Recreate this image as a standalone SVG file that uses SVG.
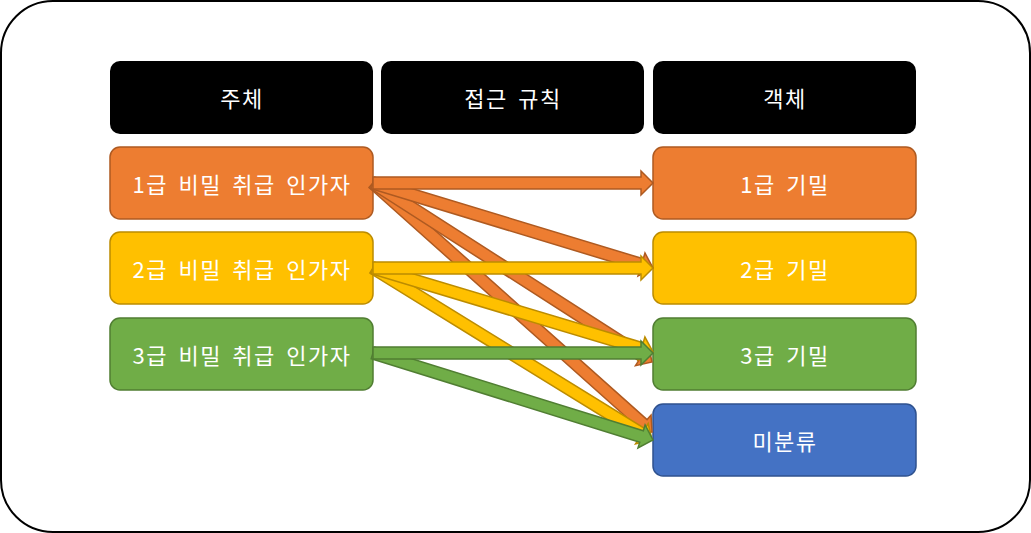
<svg xmlns="http://www.w3.org/2000/svg" width="1031" height="533" viewBox="0 0 1031 533">
<style>
text{font-family:"Noto Sans CJK KR","Noto Sans",sans-serif;font-size:22px;letter-spacing:1.5px;word-spacing:4px;fill:#fff;text-anchor:middle;dominant-baseline:central}
.hdr{fill:#000}
.o{fill:#ED7D31;stroke:#AE5A21;stroke-width:1.5}
.y{fill:#FFC000;stroke:#BC8C00;stroke-width:1.5}
.g{fill:#70AD47;stroke:#507E32;stroke-width:1.5}
.b{fill:#4472C4;stroke:#2F528F;stroke-width:1.5}
</style>
<rect x="1" y="1" width="1029" height="531" rx="52" fill="#fff" stroke="#000" stroke-width="2"/>
<g id="h-subject"><rect class="hdr" x="110" y="61" width="263" height="73" rx="10"/><text x="242" y="97">주체</text></g>
<g id="h-rule"><rect class="hdr" x="381" y="61" width="263" height="73" rx="10"/><text x="513" y="97">접근 규칙</text></g>
<g id="h-object"><rect class="hdr" x="653" y="61" width="263" height="73" rx="10"/><text x="785" y="97">객체</text></g>
<g id="s1"><rect class="o" x="110" y="147" width="263" height="72" rx="10"/><text x="242" y="183">1급 비밀 취급 인가자</text></g>
<g id="s2"><rect class="y" x="110" y="232" width="263" height="72" rx="10"/><text x="242" y="268">2급 비밀 취급 인가자</text></g>
<g id="s3"><rect class="g" x="110" y="318" width="263" height="72" rx="10"/><text x="242" y="354">3급 비밀 취급 인가자</text></g>
<g id="o1"><rect class="o" x="653" y="147" width="263" height="72" rx="10"/><text x="785" y="183">1급 기밀</text></g>
<g id="o2"><rect class="y" x="653" y="232" width="263" height="72" rx="10"/><text x="785" y="268">2급 기밀</text></g>
<g id="o3"><rect class="g" x="653" y="318" width="263" height="72" rx="10"/><text x="785" y="354">3급 기밀</text></g>
<g id="o4"><rect class="b" x="653" y="404" width="263" height="72" rx="10"/><text x="785" y="440">미분류</text></g>
<g id="connectors">
<path class="o" transform="translate(373,183) rotate(41.75)" d="M0,-6 L362,-6 L362,-12 L374,0 L362,12 L362,6 L0,6 Z"/>
<path class="o" transform="translate(373,183) rotate(32.68)" d="M0,-6 L319.5,-6 L319.5,-12 L331.5,0 L319.5,12 L319.5,6 L0,6 Z"/>
<path class="o" transform="translate(373,183) rotate(16.89)" d="M0,-6 L280.6,-6 L280.6,-12 L292.6,0 L280.6,12 L280.6,6 L0,6 Z"/>
<path class="o" transform="translate(373,183)" d="M0,-6 L268,-6 L268,-12 L280,0 L268,12 L268,6 L0,6 Z"/>
<path class="y" transform="translate(373,268) rotate(31.65)" d="M0,-6 L315.8,-6 L315.8,-12 L327.8,0 L315.8,12 L315.8,6 L0,6 Z"/>
<path class="y" transform="translate(373,268) rotate(16.70)" d="M0,-6 L280.3,-6 L280.3,-12 L292.3,0 L280.3,12 L280.3,6 L0,6 Z"/>
<path class="y" transform="translate(373,268)" d="M0,-6 L268,-6 L268,-12 L280,0 L268,12 L268,6 L0,6 Z"/>
<path class="g" transform="translate(373,353) rotate(17.26)" d="M0,-6 L281.2,-6 L281.2,-12 L293.2,0 L281.2,12 L281.2,6 L0,6 Z"/>
<path class="g" transform="translate(373,353)" d="M0,-6 L268,-6 L268,-12 L280,0 L268,12 L268,6 L0,6 Z"/>
</g>
</svg>
